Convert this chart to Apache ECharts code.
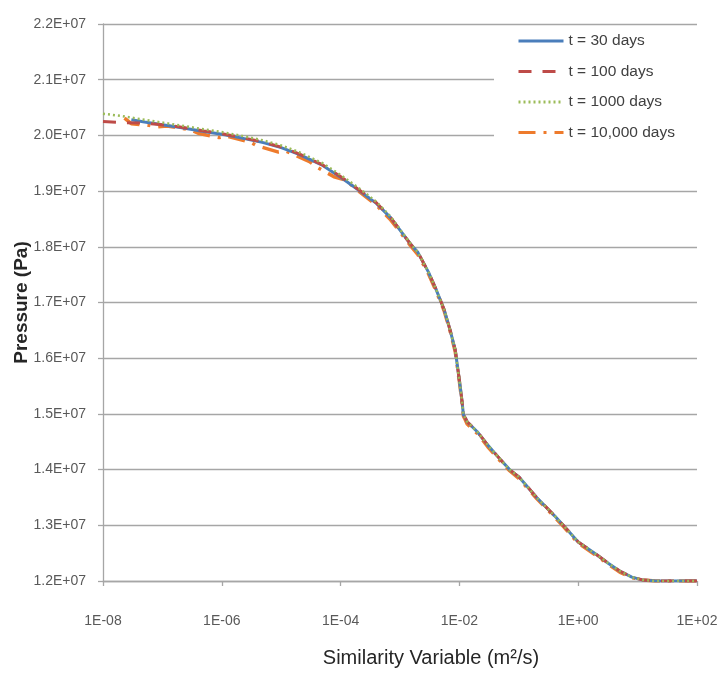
<!DOCTYPE html>
<html>
<head>
<meta charset="utf-8">
<script src="https://cdn.jsdelivr.net/npm/echarts@6/dist/echarts.min.js"></script>
<style>
  html, body { margin: 0; padding: 0; background: #ffffff; }
  #chart { width: 719px; height: 678px; }
</style>
</head>
<body>
<div id="chart"></div>
<script>
// ---- Data ----
var seriesNames = ['t = 30 days', 't = 100 days', 't = 1000 days', 't = 10,000 days'];
var xTickLabels = ['1E-08', '1E-06', '1E-04', '1E-02', '1E+00', '1E+02'];
var yTickLabels = ['1.2E+07', '1.3E+07', '1.4E+07', '1.5E+07', '1.6E+07', '1.7E+07', '1.8E+07', '1.9E+07', '2.0E+07', '2.1E+07', '2.2E+07'];

// similarity variable (m^2/s), pressure (Pa)
var days30 = [
  [3e-8, 2.028e7], [5e-8, 2.024e7], [1e-7, 2.019e7], [2e-7, 2.014e7], [5e-7, 2.007e7],
  [1e-6, 2.002e7], [2e-6, 1.996e7], [5e-6, 1.987e7], [1e-5, 1.978e7], [2e-5, 1.966e7],
  [5e-5, 1.946e7], [1e-4, 1.925e7], [2e-4, 1.902e7], [4e-4, 1.878e7], [7e-4, 1.852e7],
  [1e-3, 1.830e7], [1.5e-3, 1.805e7], [2e-3, 1.790e7], [3e-3, 1.755e7], [4e-3, 1.725e7],
  [5.5e-3, 1.688e7], [7e-3, 1.650e7], [8.5e-3, 1.615e7], [1e-2, 1.560e7], [1.1e-2, 1.525e7],
  [1.17e-2, 1.498e7], [1.25e-2, 1.493e7], [1.35e-2, 1.486e7], [2e-2, 1.468e7], [3e-2, 1.444e7],
  [5e-2, 1.417e7], [7e-2, 1.400e7], [0.1, 1.387e7], [0.2, 1.350e7], [0.4, 1.317e7],
  [0.56, 1.300e7], [1, 1.270e7], [2, 1.248e7], [3.2, 1.232e7], [5, 1.218e7],
  [8, 1.207e7], [12, 1.202e7], [20, 1.200e7], [100, 1.200e7]
];
var days100 = [
  [1e-8, 2.025e7], [2e-8, 2.023e7], [5e-8, 2.022e7], [1e-7, 2.019e7], [2e-7, 2.015e7], [5e-7, 2.008e7],
  [1e-6, 2.003e7], [2e-6, 1.997e7], [5e-6, 1.988e7], [1e-5, 1.979e7], [2e-5, 1.967e7],
  [5e-5, 1.947e7], [1e-4, 1.926e7], [2e-4, 1.903e7], [4e-4, 1.879e7], [7e-4, 1.852e7],
  [1e-3, 1.830e7], [1.5e-3, 1.805e7], [2e-3, 1.790e7], [3e-3, 1.755e7], [4e-3, 1.725e7],
  [5.5e-3, 1.688e7], [7e-3, 1.650e7], [8.5e-3, 1.615e7], [1e-2, 1.560e7], [1.1e-2, 1.525e7],
  [1.17e-2, 1.498e7], [1.25e-2, 1.493e7], [1.35e-2, 1.486e7], [2e-2, 1.468e7], [3e-2, 1.444e7],
  [5e-2, 1.417e7], [7e-2, 1.400e7], [0.1, 1.387e7], [0.2, 1.350e7], [0.4, 1.317e7],
  [0.56, 1.300e7], [1, 1.270e7], [2, 1.248e7], [3.2, 1.232e7], [5, 1.218e7],
  [8, 1.207e7], [12, 1.202e7], [20, 1.200e7], [100, 1.200e7]
];
var days1000 = [
  [1e-8, 2.039e7], [2e-8, 2.035e7], [5e-8, 2.028e7], [1e-7, 2.023e7], [2e-7, 2.018e7], [5e-7, 2.011e7],
  [1e-6, 2.006e7], [2e-6, 2.000e7], [5e-6, 1.991e7], [1e-5, 1.982e7], [2e-5, 1.970e7],
  [5e-5, 1.950e7], [1e-4, 1.929e7], [2e-4, 1.906e7], [4e-4, 1.881e7], [7e-4, 1.854e7],
  [1e-3, 1.831e7], [1.5e-3, 1.806e7], [2e-3, 1.790e7], [3e-3, 1.755e7], [4e-3, 1.725e7],
  [5.5e-3, 1.688e7], [7e-3, 1.650e7], [8.5e-3, 1.615e7], [1e-2, 1.560e7], [1.1e-2, 1.525e7],
  [1.17e-2, 1.498e7], [1.25e-2, 1.493e7], [1.35e-2, 1.486e7], [2e-2, 1.468e7], [3e-2, 1.444e7],
  [5e-2, 1.417e7], [7e-2, 1.400e7], [0.1, 1.387e7], [0.2, 1.350e7], [0.4, 1.317e7],
  [0.56, 1.300e7], [1, 1.270e7], [2, 1.248e7], [3.2, 1.232e7], [5, 1.218e7],
  [8, 1.207e7], [12, 1.202e7], [20, 1.200e7], [100, 1.200e7]
];
var days10000 = [
  [2.3e-8, 2.031e7], [3e-8, 2.021e7], [6e-8, 2.018e7], [8e-8, 2.015e7], [1.2e-7, 2.017e7],
  [3e-7, 2.010e7], [4e-7, 2.004e7], [9e-7, 1.996e7], [1.2e-6, 1.999e7], [3e-6, 1.988e7],
  [4e-6, 1.981e7], [9e-6, 1.970e7], [1.2e-5, 1.972e7], [3e-5, 1.953e7], [4e-5, 1.943e7],
  [8e-5, 1.925e7], [1.2e-4, 1.920e7], [2e-4, 1.900e7], [4e-4, 1.875e7], [7e-4, 1.848e7],
  [1e-3, 1.827e7], [1.5e-3, 1.802e7], [2e-3, 1.786e7], [3e-3, 1.752e7], [4e-3, 1.722e7],
  [5.5e-3, 1.686e7], [7e-3, 1.648e7], [8.5e-3, 1.612e7], [1e-2, 1.558e7], [1.1e-2, 1.522e7],
  [1.17e-2, 1.496e7], [1.25e-2, 1.490e7], [1.35e-2, 1.482e7], [2e-2, 1.465e7], [3e-2, 1.441e7],
  [5e-2, 1.414e7], [7e-2, 1.398e7], [0.1, 1.384e7], [0.2, 1.348e7], [0.4, 1.315e7],
  [0.56, 1.298e7], [1, 1.268e7], [2, 1.246e7], [3.2, 1.230e7], [5, 1.216e7],
  [8, 1.206e7], [12, 1.202e7], [20, 1.200e7], [100, 1.200e7]
];

var FONT = "'Liberation Sans', Arial, sans-serif";
var chart = echarts.init(document.getElementById('chart'), null, { renderer: 'canvas' });

function xLabel(v) {
  var e = Math.round(Math.log(v) / Math.LN10);
  var idx = (e + 8) / 2;
  return (idx >= 0 && idx < xTickLabels.length && idx === Math.round(idx)) ? xTickLabels[idx] : '';
}
function yLabel(v) {
  var idx = Math.round((v - 1.2e7) / 1e6);
  return yTickLabels[idx] || '';
}

var option = {
  backgroundColor: '#ffffff',
  animation: false,
  grid: { left: 103, right: 22, top: 24, bottom: 97, containLabel: false, outerBoundsMode: 'none' },
  legend: {
    orient: 'vertical',
    left: 494,
    top: 27,
    itemWidth: 45,
    itemHeight: 14,
    itemGap: 14.5,
    padding: [6, 24, 45, 23],
    backgroundColor: '#ffffff',
    itemStyle: { opacity: 0 },
    lineStyle: { width: 3 },
    textStyle: { fontFamily: FONT, fontSize: 15.5, color: '#404040' },
    data: seriesNames
  },
  xAxis: {
    type: 'log',
    logBase: 10,
    min: 1e-8,
    max: 1e2,
    interval: 2,
    name: 'Similarity Variable (m\u00B2/s)',
    nameLocation: 'middle',
    nameGap: 67,
    nameMoveOverlap: false,
    nameTextStyle: { fontFamily: FONT, fontSize: 20, color: '#262626', padding: [0, 0, 0, 62] },
    axisLine: { show: true, lineStyle: { color: '#a6a6a6', width: 1.3 } },
    axisTick: { show: true, length: 5, lineStyle: { color: '#a6a6a6', width: 1.3 } },
    minorTick: { show: false },
    axisLabel: { formatter: xLabel, margin: 33, fontFamily: FONT, fontSize: 14, color: '#595959' },
    splitLine: { show: false }
  },
  yAxis: {
    type: 'value',
    min: 1.2e7,
    max: 2.2e7,
    interval: 1e6,
    name: 'Pressure (Pa)',
    nameLocation: 'middle',
    nameGap: 72,
    nameMoveOverlap: false,
    nameTextStyle: { fontFamily: FONT, fontSize: 19, fontWeight: 'bold', color: '#262626' },
    axisLine: { show: true, lineStyle: { color: '#a6a6a6', width: 1.3 } },
    axisTick: { show: true, length: 5, lineStyle: { color: '#a6a6a6', width: 1.3 } },
    axisLabel: { formatter: yLabel, margin: 17, fontFamily: FONT, fontSize: 14, color: '#595959' },
    splitLine: { show: true, lineStyle: { color: '#a6a6a6', width: 1.3 } }
  },
  series: [
    {
      name: seriesNames[0], type: 'line', data: days30, showSymbol: false, symbol: 'none', z: 3,
      lineStyle: { color: '#4a7ebb', width: 3 }, itemStyle: { color: '#4a7ebb' }
    },
    {
      name: seriesNames[1], type: 'line', data: days100, showSymbol: false, symbol: 'none', z: 4,
      lineStyle: { color: '#be4b48', width: 3, type: [13, 11] }, itemStyle: { color: '#be4b48' }
    },
    {
      name: seriesNames[2], type: 'line', data: days1000, showSymbol: false, symbol: 'none', z: 5,
      lineStyle: { color: '#9bbb59', width: 2.5, type: [2, 3] }, itemStyle: { color: '#9bbb59' }
    },
    {
      name: seriesNames[3], type: 'line', data: days10000, showSymbol: false, symbol: 'none', z: 2,
      lineStyle: { color: '#ee7b2c', width: 3.5, type: [17, 8, 3, 8] }, itemStyle: { color: '#ee7b2c' }
    }
  ]
};
chart.setOption(option);
</script>
</body>
</html>
